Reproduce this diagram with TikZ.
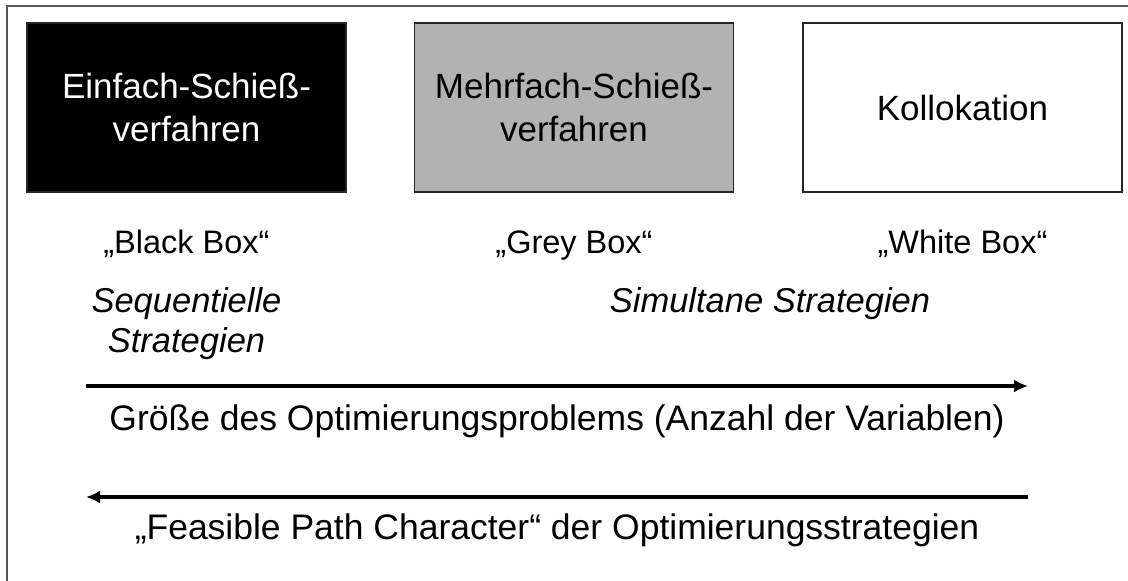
\documentclass[tikz,border=0pt]{standalone}
\usepackage{fontspec}
\setmainfont{Liberation Sans}
\usetikzlibrary{arrows.meta,calc}

\begin{document}
\begin{tikzpicture}[x=1pt,y=-1pt,
  verfahren/.style={draw=black!85,line width=1.5pt,minimum width=319pt,minimum height=169pt,
    inner sep=0pt,align=center,font=\fontsize{35}{43}\selectfont},
  boxlabel/.style={anchor=base,font=\fontsize{32.5}{40}\selectfont},
  achse/.style={anchor=base,font=\fontsize{35.5}{40}\selectfont},
  strategie/.style={anchor=base,align=center,font=\fontsize{34.5}{40}\selectfont\itshape},
  pfeil/.style={line width=4pt,-{Latex[length=14pt,width=13pt]}}]

\clip (0,0) rectangle (1128,581);
\fill[white] (0,0) rectangle (1128,581);
\draw[black!65,line width=1.5pt] (7,6) rectangle (1150,600);

% die drei Verfahren
\node[verfahren,fill=black,text=white] (einfach) at (186.5,107.5) {Einfach-Schieß-\\verfahren};
\node[verfahren,fill=black!30] (mehrfach) at (574,107.5) {Mehrfach-Schieß-\\verfahren};
\node[verfahren,fill=white] (kollokation) at (962.5,107.5) {Kollokation};

\node[boxlabel] (blackbox) at (186.5,253) {„Black Box“};
\node[boxlabel] (greybox) at (574,253) {„Grey Box“};
\node[boxlabel] (whitebox) at (962.5,253) {„White Box“};

% base = Grundlinie der letzten Zeile
\node[strategie] (sequentiell) at (186.5,352) {Sequentielle\\Strategien};
\node[strategie] (simultan) at (770,312) {Simultane Strategien};

% Pfeile
\coordinate (groesse links) at (86,386);
\coordinate (groesse rechts) at (1028,386);
\draw[pfeil] (groesse links) -- (groesse rechts);
\node[achse] (groesse) at (557,430) {Größe des Optimierungsproblems (Anzahl der Variablen)};

\coordinate (feasible rechts) at (1028,497);
\coordinate (feasible links) at (86,497);
\draw[pfeil] (feasible rechts) -- (feasible links);
\node[achse] (feasible) at (557,539) {„Feasible Path Character“ der Optimierungsstrategien};
\end{tikzpicture}
\end{document}
